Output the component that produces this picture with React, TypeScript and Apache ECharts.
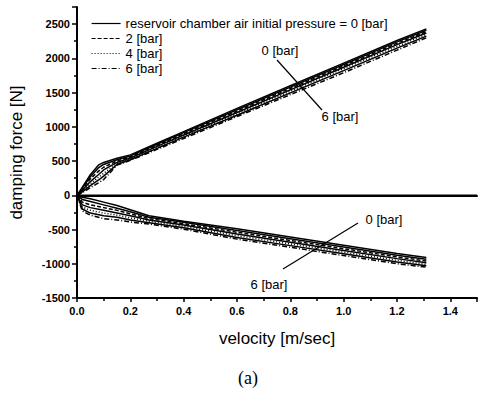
import React, { useEffect, useRef } from "react";
import * as echarts from "echarts";

const legendNames = [
  "reservoir chamber air initial pressure = 0 [bar]",
  "1 [bar]",
  "2 [bar]",
  "3 [bar]",
  "4 [bar]",
  "5 [bar]",
  "6 [bar]",
];
const legendShown = [legendNames[0], legendNames[2], legendNames[4], legendNames[6]];

// upper branch (positive damping force)
const upperVel = [0, 0.02, 0.05, 0.08, 0.1, 0.15, 0.2, 0.3, 0.4, 0.6, 0.8, 1.0, 1.2, 1.31];
const upper0 = [0, 120, 300, 440, 480, 540, 590, 760, 930, 1270, 1600, 1930, 2260, 2430];
const upper1 = [0, 105, 270, 400, 450, 520, 575, 745, 915, 1250, 1580, 1910, 2240, 2410];
const upper2 = [0, 90, 240, 350, 410, 500, 560, 730, 900, 1230, 1560, 1890, 2220, 2390];
const upper3 = [0, 75, 200, 300, 370, 480, 545, 715, 880, 1210, 1540, 1870, 2200, 2370];
const upper4 = [0, 65, 170, 260, 320, 465, 530, 700, 865, 1190, 1520, 1850, 2175, 2350];
const upper5 = [0, 50, 140, 220, 280, 450, 520, 685, 850, 1170, 1495, 1820, 2150, 2325];
const upper6 = [0, 40, 110, 180, 230, 440, 510, 670, 830, 1150, 1470, 1790, 2120, 2300];

// lower branch (negative damping force)
const lowerVel = [0, 0.02, 0.05, 0.1, 0.15, 0.2, 0.27, 0.4, 0.6, 0.8, 1.0, 1.2, 1.31];
const lower0 = [0, -30, -50, -100, -150, -210, -300, -380, -490, -610, -730, -850, -910];
const lower1 = [0, -60, -90, -140, -190, -240, -320, -395, -515, -635, -755, -875, -935];
const lower2 = [0, -100, -140, -180, -220, -270, -340, -415, -540, -660, -780, -900, -960];
const lower3 = [0, -140, -180, -220, -260, -300, -360, -435, -565, -685, -805, -925, -985];
const lower4 = [0, -170, -220, -260, -290, -330, -380, -455, -590, -710, -830, -950, -1010];
const lower5 = [0, -200, -260, -300, -320, -360, -400, -475, -615, -735, -855, -975, -1030];
const lower6 = [0, -230, -290, -340, -360, -390, -420, -495, -640, -760, -880, -1000, -1050];

const uppers = [upper0, upper1, upper2, upper3, upper4, upper5, upper6];
const lowers = [lower0, lower1, lower2, lower3, lower4, lower5, lower6];

const dashTypes: any[] = ["solid", "solid", [4, 2], "solid", [1, 2], "solid", [5, 2, 1, 2]];

const FONT = "Arial, 'Liberation Sans', Helvetica, sans-serif";

export default function App() {
  const ref = useRef<HTMLDivElement>(null);
  useEffect(() => {
    if (!ref.current) return;
    const chart = echarts.init(ref.current, null, { renderer: "svg" });
    const series: any[] = [];
    const mk = (name: string, data: number[][], i: number) => ({
      name,
      type: "line",
      data,
      showSymbol: false,
      symbol: "none",
      lineStyle: { color: "#000", width: 1.5, type: dashTypes[i] },
      itemStyle: { color: "#000" },
    });
    uppers.forEach((arr, i) => series.push(mk(legendNames[i], upperVel.map((v, k) => [v, arr[k]]), i)));
    lowers.forEach((arr, i) => series.push(mk(legendNames[i], lowerVel.map((v, k) => [v, arr[k]]), i)));
    series.push({
      name: "zero",
      type: "line",
      data: [
        [0, 0],
        [1.5, 0],
      ],
      showSymbol: false,
      symbol: "none",
      lineStyle: { color: "#000", width: 1.5 },
      silent: true,
    });

    chart.setOption({
      animation: false,
      backgroundColor: "#fff",
      grid: { left: 75, top: 7, right: 1, bottom: 99 },
      legend: {
        data: legendShown,
        orient: "vertical",
        left: 86,
        top: 12,
        itemWidth: 29,
        itemHeight: 10,
        itemGap: 2,
        selectedMode: false,
        itemStyle: { opacity: 0, borderWidth: 0 },
        lineStyle: { width: 1.2 },
        textStyle: { fontFamily: FONT, fontSize: 13, lineHeight: 13, color: "#000" },
      },
      xAxis: [
        {
          type: "value",
          min: 0,
          max: 1.5,
          interval: 0.2,
          name: "velocity [m/sec]",
          nameLocation: "middle",
          nameGap: 32,
          nameTextStyle: { fontFamily: FONT, fontSize: 17, color: "#000" },
          axisLine: { show: true, onZero: false, lineStyle: { color: "#000", width: 2 } },
          axisTick: { show: true, length: 4, lineStyle: { color: "#000", width: 1.5 } },
          minorTick: { show: true, splitNumber: 2, length: 3, lineStyle: { color: "#000", width: 1.5 } },
          splitLine: { show: false },
          axisLabel: {
            fontFamily: FONT,
            fontSize: 11,
            fontWeight: "bold",
            color: "#000",
            margin: 7,
            formatter: (v: number) => (Math.abs(v * 5 - Math.round(v * 5)) < 1e-6 ? v.toFixed(1) : ""),
          },
        },
        {
          type: "value",
          position: "top",
          min: 0,
          max: 1.5,
          axisLine: { show: true, lineStyle: { color: "#000", width: 2 } },
          axisTick: { show: false },
          axisLabel: { show: false },
          splitLine: { show: false },
        },
      ],
      yAxis: {
        type: "value",
        min: -1500,
        max: 2750,
        interval: 500,
        name: "damping force [N]",
        nameLocation: "middle",
        nameRotate: 90,
        nameGap: 52,
        nameTextStyle: { fontFamily: FONT, fontSize: 17, color: "#000" },
        axisLine: { show: true, onZero: false, lineStyle: { color: "#000", width: 2 } },
        axisTick: { show: true, length: 5, lineStyle: { color: "#000", width: 1.5 } },
        minorTick: { show: true, splitNumber: 2, length: 3, lineStyle: { color: "#000", width: 1.5 } },
        splitLine: { show: false },
        axisLabel: {
          fontFamily: FONT,
          fontSize: 11,
          fontWeight: "bold",
          color: "#000",
          margin: 7,
          formatter: (v: number) => (v % 500 === 0 ? String(v) : ""),
        },
      },
      series,
      graphic: [
        { type: "text", x: 280, y: 50, style: { text: "0 [bar]", fontFamily: FONT, fontSize: 13, fill: "#000", align: "center", verticalAlign: "middle" } },
        { type: "line", shape: { x1: 277, y1: 60, x2: 322, y2: 110 }, style: { stroke: "#000", lineWidth: 1.2 } },
        { type: "text", x: 340, y: 116, style: { text: "6 [bar]", fontFamily: FONT, fontSize: 13, fill: "#000", align: "center", verticalAlign: "middle" } },
        { type: "text", x: 384, y: 219, style: { text: "0 [bar]", fontFamily: FONT, fontSize: 13, fill: "#000", align: "center", verticalAlign: "middle" } },
        { type: "line", shape: { x1: 358, y1: 223, x2: 283, y2: 269 }, style: { stroke: "#000", lineWidth: 1.2 } },
        { type: "text", x: 269, y: 284, style: { text: "6 [bar]", fontFamily: FONT, fontSize: 13, fill: "#000", align: "center", verticalAlign: "middle" } },
        { type: "text", x: 248, y: 378, style: { text: "(a)", fontFamily: "'Liberation Serif', 'Times New Roman', serif", fontSize: 18, fill: "#000", align: "center", verticalAlign: "middle" } },
      ],
    });
    return () => chart.dispose();
  }, []);
  return <div ref={ref} style={{ position: "fixed", left: 0, top: 0, width: 480, height: 397 }} />;
}
